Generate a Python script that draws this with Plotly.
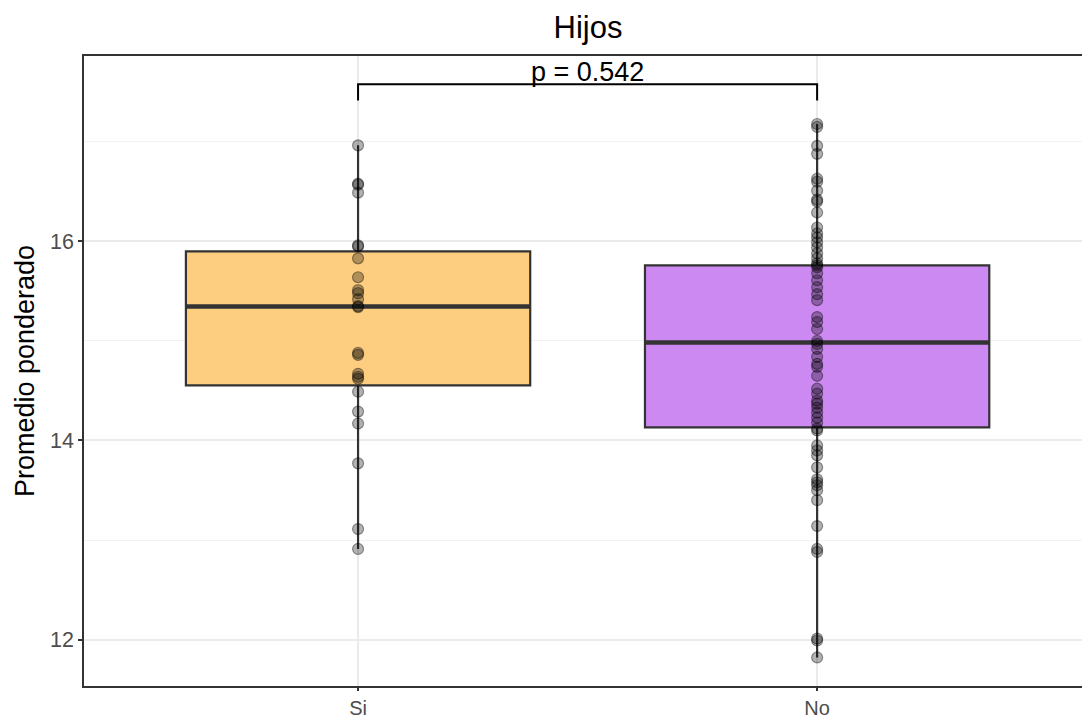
import plotly.graph_objects as go

# ---- data ----
categories = ["Si", "No"]
cat_pos = [1, 2]

si_values = [16.965, 16.58, 16.57, 16.49, 15.96, 15.95, 15.83, 15.64, 15.51, 15.48,
             15.42, 15.35, 15.34, 14.88, 14.86, 14.67, 14.64, 14.62, 14.49, 14.29,
             14.17, 13.77, 13.11, 12.91]
no_values = [17.18, 17.15, 16.96, 16.88, 16.63, 16.60, 16.51, 16.42, 16.40, 16.29,
             16.14, 16.08, 16.04, 15.99, 15.94, 15.88, 15.83, 15.78, 15.76, 15.74,
             15.68, 15.61, 15.54, 15.47, 15.41, 15.24, 15.19, 15.12, 15.00, 14.97,
             14.92, 14.84, 14.77, 14.74, 14.65, 14.52, 14.47, 14.40, 14.37, 14.33,
             14.28, 14.23, 14.18, 14.12, 14.10, 13.95, 13.90, 13.85, 13.73, 13.61,
             13.58, 13.55, 13.50, 13.40, 13.14, 12.91, 12.88, 12.01, 11.99, 11.82]

q1 = [14.553, 14.131]
median = [15.347, 14.985]
q3 = [15.900, 15.759]
lowerfence = [12.91, 11.82]
upperfence = [16.965, 17.18]

p_label = "p = 0.542"
bracket_low = 17.417
bracket_high = 17.578

fill_colors = ["rgb(253,205,128)", "rgb(204,137,241)"]
font_family = "Liberation Sans, Arial, sans-serif"
box_width = 0.75

fig = go.Figure()

for i in range(2):
    fig.add_trace(go.Box(
        x=[cat_pos[i]], q1=[q1[i]], median=[median[i]], q3=[q3[i]],
        lowerfence=[lowerfence[i]], upperfence=[upperfence[i]],
        width=box_width, whiskerwidth=0,
        fillcolor=fill_colors[i],
        line=dict(color="#333333", width=2.2),
        boxpoints=False, hoverinfo="skip", showlegend=False,
    ))
    # thicker median line
    fig.add_trace(go.Scatter(
        x=[cat_pos[i] - box_width / 2, cat_pos[i] + box_width / 2],
        y=[median[i], median[i]], mode="lines",
        line=dict(color="#333333", width=4.5), showlegend=False, hoverinfo="skip",
    ))

for i, vals in enumerate([si_values, no_values]):
    fig.add_trace(go.Scatter(
        x=[cat_pos[i]] * len(vals), y=vals, mode="markers",
        marker=dict(size=11, color="rgba(0,0,0,0.3)",
                    line=dict(color="rgba(0,0,0,0.4)", width=1.2)),
        showlegend=False, hoverinfo="skip",
    ))

# significance bracket
fig.add_trace(go.Scatter(
    x=[cat_pos[0], cat_pos[0], cat_pos[1], cat_pos[1]],
    y=[bracket_low, bracket_high, bracket_high, bracket_low],
    mode="lines", line=dict(color="black", width=2),
    showlegend=False, hoverinfo="skip",
))
fig.add_annotation(
    x=(cat_pos[0] + cat_pos[1]) / 2, y=bracket_high, text=p_label,
    showarrow=False, yanchor="bottom", yshift=-5,
    font=dict(size=27, color="black", family=font_family),
)

fig.update_layout(
    width=1082, height=720,
    margin=dict(l=84, r=0, t=56, b=34),
    paper_bgcolor="white", plot_bgcolor="white",
    font=dict(family=font_family),
    title=dict(text="Hijos", x=588 / 1082, xanchor="center",
               y=1 - 27 / 720, yanchor="middle", yref="container",
               font=dict(size=31, color="black", family=font_family)),
)

fig.update_xaxes(
    range=[0.403, 2.577], tickvals=cat_pos, ticktext=categories,
    automargin=False,
    showgrid=True, gridcolor="#ebebeb", gridwidth=1.5,
    showline=True, linecolor="#333333", linewidth=1.5, mirror=True,
    ticks="outside", ticklen=3, tickcolor="#333333", tickwidth=1.5,
    tickfont=dict(size=20, color="#4d4d4d", family=font_family),
    zeroline=False,
)
fig.update_yaxes(
    range=[11.533, 17.863], tickvals=[12, 14, 16],
    automargin=False,
    showgrid=True, gridcolor="#ebebeb", gridwidth=1.5,
    minor=dict(tickvals=[13, 15, 17], showgrid=True, gridcolor="#f3f3f3", gridwidth=1),
    showline=True, linecolor="#333333", linewidth=1.5, mirror=False,
    ticks="outside", ticklen=4, tickcolor="#333333", tickwidth=1.5,
    tickfont=dict(size=21.5, color="#4d4d4d", family=font_family),
    title=dict(text="Promedio ponderado", standoff=8,
               font=dict(size=27, color="black", family=font_family)),
    zeroline=False,
)

fig.write_html("out.html")
